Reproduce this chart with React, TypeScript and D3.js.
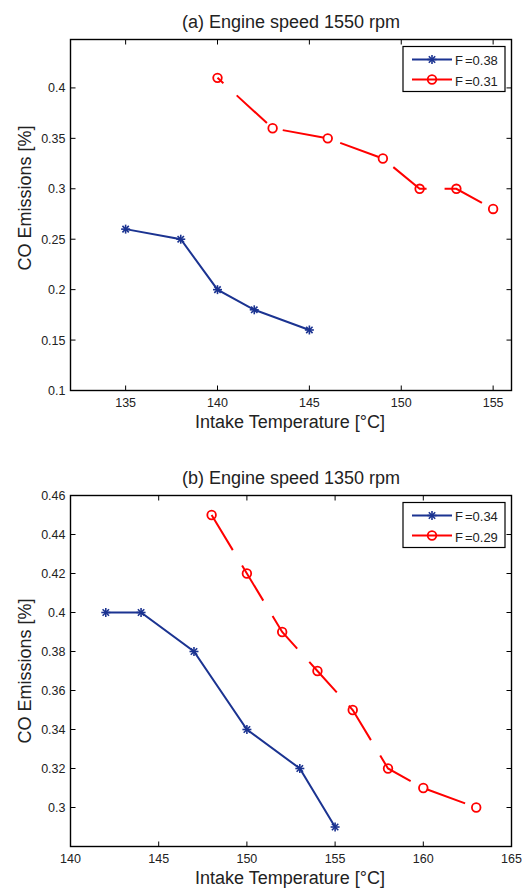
import React from 'react';
import * as d3 from 'd3';

// panel (a): engine speed 1550 rpm
const aTicksX = [135, 140, 145, 150, 155];
const aTicksY = [0.1, 0.15, 0.2, 0.25, 0.3, 0.35, 0.4];
const aBlueX = [135, 138, 140, 142, 145];
const aBlueY = [0.26, 0.25, 0.2, 0.18, 0.16];
const aRedX = [140, 143, 146, 149, 151, 153, 155];
const aRedY = [0.41, 0.36, 0.35, 0.33, 0.3, 0.3, 0.28];
const aLegend = ['0.38', '0.31'];

// panel (b): engine speed 1350 rpm
const bTicksX = [140, 145, 150, 155, 160, 165];
const bTicksY = [0.3, 0.32, 0.34, 0.36, 0.38, 0.4, 0.42, 0.44, 0.46];
const bBlueX = [142, 144, 147, 150, 153, 155];
const bBlueY = [0.4, 0.4, 0.38, 0.34, 0.32, 0.29];
const bRedX = [148, 150, 152, 154, 156, 158, 160, 163];
const bRedY = [0.45, 0.42, 0.39, 0.37, 0.35, 0.32, 0.31, 0.3];
const bLegend = ['0.34', '0.29'];

const BLUE = '#1b3391';
const RED = '#ff0000';
const FONT = '"Liberation Sans", Arial, Helvetica, sans-serif';

const Star = ({ x, y }) => {
  const r = 4.5, d = 3.2;
  return (
    <g stroke={BLUE} strokeWidth={1.6}>
      <line x1={x - r} y1={y} x2={x + r} y2={y} />
      <line x1={x} y1={y - r} x2={x} y2={y + r} />
      <line x1={x - d} y1={y - d} x2={x + d} y2={y + d} />
      <line x1={x - d} y1={y + d} x2={x + d} y2={y - d} />
    </g>
  );
};

const Ring = ({ x, y }) => (
  <circle cx={x} cy={y} r={4.3} fill="none" stroke={RED} strokeWidth={1.8} />
);

const Panel = (props) => {
  const { title, top, bottom, xDomain, yDomain, ticksX, ticksY, fmtY,
    blueX, blueY, redX, redY, legend, dashOffset, yLabelY } = props;
  const left = 70.5, right = 511.5;
  const x = d3.scaleLinear().domain(xDomain).range([left, right]);
  const y = d3.scaleLinear().domain(yDomain).range([bottom, top]);
  const line = d3.line().x((d) => x(d[0])).y((d) => y(d[1]));
  const blue = blueX.map((v, i) => [v, blueY[i]]);
  const red = redX.map((v, i) => [v, redY[i]]);
  const tl = 5;
  const lgX = 403, lgY = top + 7, lgW = 102, lgH = 45;

  return (
    <g fontFamily={FONT} fill="#222">
      <text x={(left + right) / 2} y={top - 12} textAnchor="middle" fontSize={18}>{title}</text>
      <rect x={left} y={top} width={right - left} height={bottom - top} fill="none" stroke="#000" strokeWidth={1.4} />
      {ticksX.map((t) => (
        <g key={'x' + t}>
          <line x1={x(t)} x2={x(t)} y1={bottom} y2={bottom - tl} stroke="#000" />
          <line x1={x(t)} x2={x(t)} y1={top} y2={top + tl} stroke="#000" />
          <text x={x(t)} y={bottom + 16} textAnchor="middle" fontSize={12.5}>{t}</text>
        </g>
      ))}
      {ticksY.map((t) => (
        <g key={'y' + t}>
          <line x1={left} x2={left + tl} y1={y(t)} y2={y(t)} stroke="#000" />
          <line x1={right} x2={right - tl} y1={y(t)} y2={y(t)} stroke="#000" />
          <text x={left - 5} y={y(t) + 4.5} textAnchor="end" fontSize={12.5}>{fmtY(t)}</text>
        </g>
      ))}
      <text x={(left + right) / 2 - 1} y={bottom + 37} textAnchor="middle" fontSize={18}>Intake Temperature [°C]</text>
      <text transform={`translate(31,${yLabelY}) rotate(-90)`} textAnchor="middle" fontSize={18}>CO Emissions [%]</text>

      <path d={line(blue)} fill="none" stroke={BLUE} strokeWidth={2} />
      {blue.map((d, i) => <Star key={'b' + i} x={x(d[0])} y={y(d[1])} />)}
      <path d={line(red)} fill="none" stroke={RED} strokeWidth={2} strokeDasharray="41 18" strokeDashoffset={dashOffset} />
      {red.map((d, i) => <Ring key={'r' + i} x={x(d[0])} y={y(d[1])} />)}

      <rect x={lgX} y={lgY} width={lgW} height={lgH} fill="#fff" stroke="#000" strokeWidth={1.2} />
      <line x1={lgX + 9} x2={lgX + 49} y1={lgY + 13} y2={lgY + 13} stroke={BLUE} strokeWidth={2} />
      <Star x={lgX + 29} y={lgY + 13} />
      <text x={lgX + 52} y={lgY + 18} fontSize={13}>F<tspan dx={2}>={legend[0]}</tspan></text>
      <line x1={lgX + 9} x2={lgX + 49} y1={lgY + 33} y2={lgY + 33} stroke={RED} strokeWidth={2} />
      <Ring x={lgX + 29} y={lgY + 33} />
      <text x={lgX + 52} y={lgY + 39} fontSize={13}>F<tspan dx={2}>={legend[1]}</tspan></text>
    </g>
  );
};

export default function App() {
  return (
    <svg width={529} height={888} style={{ position: 'absolute', left: 0, top: 0, background: '#fff' }}>
      <rect width={529} height={888} fill="#fff" />
      <Panel
        title="(a) Engine speed 1550 rpm"
        top={39.5} bottom={390.5}
        xDomain={[132, 156]} yDomain={[0.1, 0.448]}
        ticksX={aTicksX} ticksY={aTicksY}
        fmtY={(t) => String(+t.toFixed(2))}
        blueX={aBlueX} blueY={aBlueY} redX={aRedX} redY={aRedY}
        legend={aLegend} dashOffset={33} yLabelY={198}
      />
      <Panel
        title="(b) Engine speed 1350 rpm"
        top={495.5} bottom={846.5}
        xDomain={[140, 165]} yDomain={[0.28, 0.46]}
        ticksX={bTicksX} ticksY={bTicksY}
        fmtY={(t) => String(+t.toFixed(2))}
        blueX={bBlueX} blueY={bBlueY} redX={bRedX} redY={bRedY}
        legend={bLegend} dashOffset={0} yLabelY={671}
      />
    </svg>
  );
}
